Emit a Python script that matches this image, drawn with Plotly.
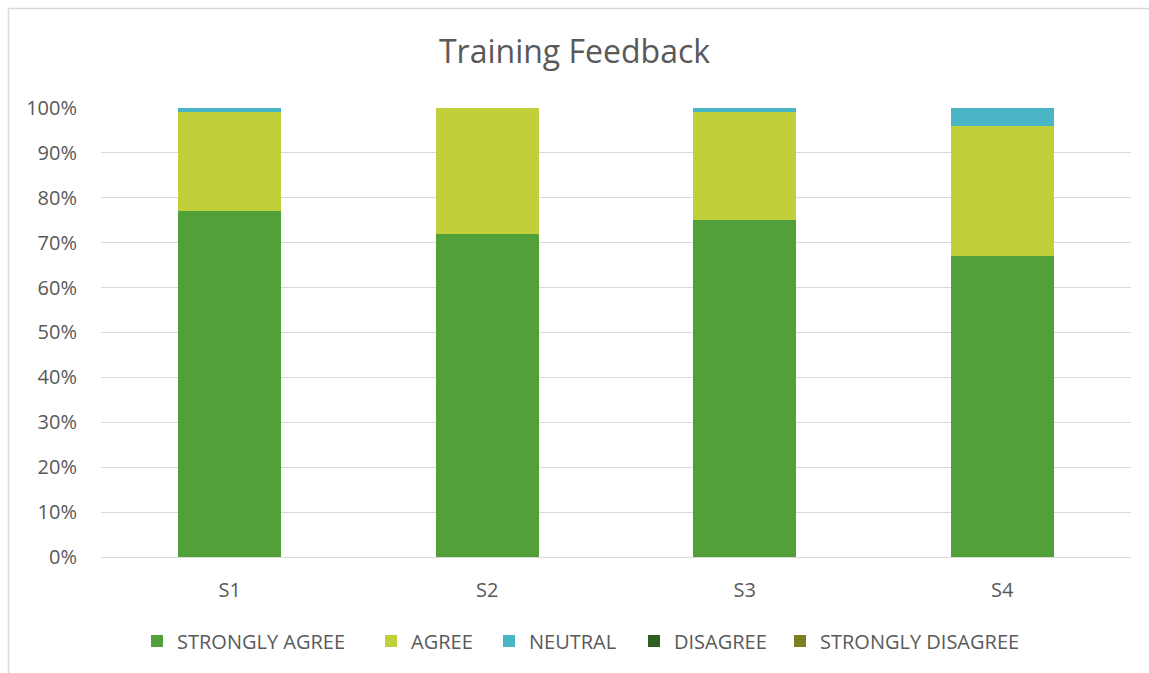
import plotly.graph_objects as go

categories = ["S1", "S2", "S3", "S4"]
series_names = ["STRONGLY AGREE", "AGREE", "NEUTRAL", "DISAGREE", "STRONGLY DISAGREE"]
strongly_agree = [77, 72, 75, 67]
agree = [22, 28, 24, 29]
neutral = [1, 0, 1, 4]
disagree = [0, 0, 0, 0]
strongly_disagree = [0, 0, 0, 0]
series_values = [strongly_agree, agree, neutral, disagree, strongly_disagree]
colors = ["#52A03A", "#C1CF3A", "#4AB5C4", "#2E5F20", "#7B7F1E"]
y_ticks = [0, 10, 20, 30, 40, 50, 60, 70, 80, 90, 100]

W, H = 1149, 673
L, R, T, B = 101, 18, 107, 116
pw, ph = W - L - R, H - T - B
legend_marker_px = [157, 391, 509, 654, 800]

def px_x(p):
    return (p - L) / pw

def px_y(p):
    return (H - B - p) / ph

fig = go.Figure()
legend_layout = {}
for i, (name, vals, c) in enumerate(zip(series_names, series_values, colors)):
    lname = "legend" if i == 0 else f"legend{i + 1}"
    fig.add_trace(go.Bar(x=categories, y=vals, name=name, legend=lname, showlegend=True,
                         marker=dict(color=c, line=dict(width=0))))
    legend_layout[lname] = dict(orientation="h", x=px_x(legend_marker_px[i] - 20), xanchor="left",
                                y=px_y(641), yanchor="middle", bgcolor="rgba(0,0,0,0)",
                                font=dict(size=20, color="#595959"), itemwidth=30)

fig.update_layout(
    width=W, height=H,
    showlegend=True,
    barmode="stack", bargap=0.6,
    paper_bgcolor="white", plot_bgcolor="white",
    margin=dict(l=L, r=R, t=T, b=B),
    font=dict(family="Open Sans", color="#595959"),
    title=dict(text="Training Feedback", x=0.5, xanchor="center", y=1 - 52 / H, yanchor="middle",
               yref="container", font=dict(size=32, color="#595959", family="Open Sans")),
    xaxis=dict(showgrid=False, ticks="outside", ticklen=15, tickcolor="rgba(0,0,0,0)",
               tickfont=dict(size=20, color="#595959"), showline=True, linecolor="#D9D9D9", linewidth=1),
    yaxis=dict(range=[0, 100.2], tickvals=y_ticks, ticktext=[f"{v}%" for v in y_ticks],
               showgrid=True, gridcolor="#D9D9D9", gridwidth=1, zeroline=False,
               ticks="outside", ticklen=19, tickcolor="rgba(0,0,0,0)",
               tickfont=dict(size=20, color="#595959")),
    shapes=[
        dict(type="line", xref="paper", yref="paper", x0=px_x(8), x1=px_x(W + 10), y0=px_y(8.5), y1=px_y(8.5),
             line=dict(color="#D9D9D9", width=1.5)),
        dict(type="line", xref="paper", yref="paper", x0=px_x(8.5), x1=px_x(8.5), y0=px_y(8), y1=px_y(H + 10),
             line=dict(color="#D9D9D9", width=1.5)),
    ],
    **legend_layout,
)

fig.write_html("out.html", config={"displayModeBar": False},
               post_script="document.body.style.margin='0';document.body.style.padding='0';")
